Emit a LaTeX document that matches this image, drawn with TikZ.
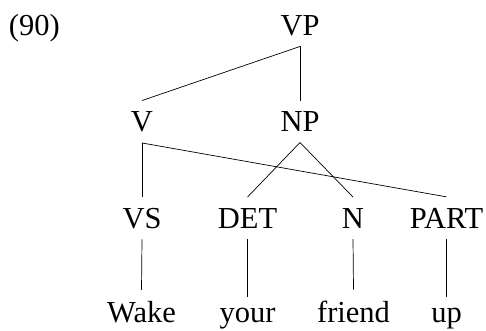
\documentclass[tikz,border=0pt]{standalone}
\usepackage{fontspec}
\setmainfont{Liberation Serif}
\begin{document}
\begin{tikzpicture}[x=1pt,y=-1pt,
  lab/.style={anchor=base,inner sep=11pt,outer sep=0pt,font=\fontsize{30.5}{36}\selectfont},
  edge/.style={draw=black,line width=0.7pt}]
\useasboundingbox (0,0) rectangle (486,330);
\node[lab,anchor=base west,inner sep=0pt] (ex) at (9,35) {(90)};
\node[lab] (VP) at (300,35) {VP};
\node[lab] (V) at (142,131.5) {V};
\node[lab] (NP) at (300,131.5) {NP};
\node[lab] (VS) at (142,228) {VS};
\node[lab] (DET) at (247.5,228) {DET};
\node[lab] (N) at (353,228) {N};
\node[lab] (PART) at (446.5,228) {PART};
\node[lab] (w1) at (141.5,322) {Wake};
\node[lab] (w2) at (247.5,322) {your};
\node[lab] (w3) at (353.5,322) {friend};
\node[lab] (w4) at (446.5,322) {up};
\draw[edge] (VP.south) -- (V.north);
\draw[edge] (VP.south) -- (NP.north);
\draw[edge] (V.south) -- (VS.north);
\draw[edge] (V.south) -- (PART.north);
\draw[edge] (NP.south) -- (DET.north);
\draw[edge] (NP.south) -- (N.north);
\draw[edge] (VS.south) -- (w1.north);
\draw[edge] (DET.south) -- (w2.north);
\draw[edge] (N.south) -- (w3.north);
\draw[edge] (PART.south) -- (w4.north);
\end{tikzpicture}
\end{document}
